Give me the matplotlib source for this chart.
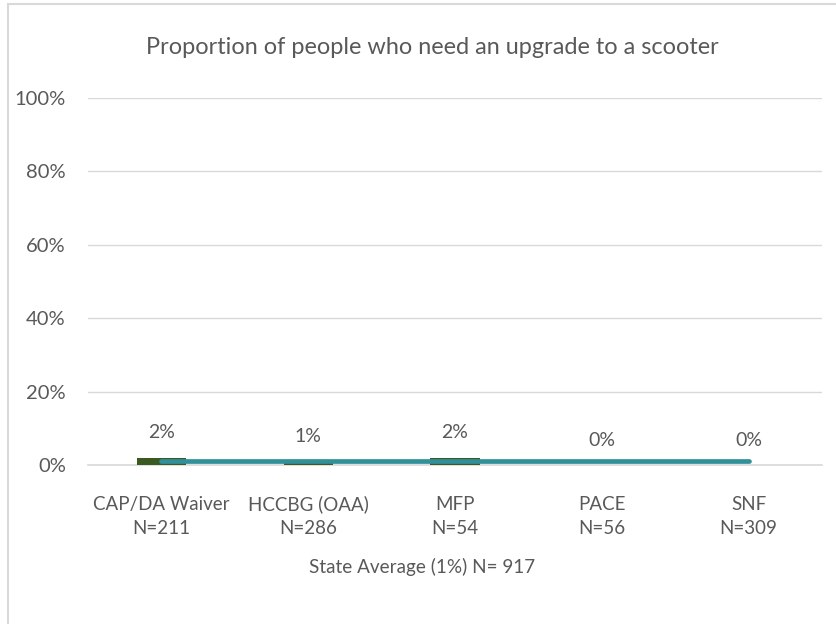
import matplotlib
matplotlib.use('Agg')
import matplotlib.pyplot as plt
from matplotlib.patches import Rectangle

# Data
programs = ['CAP/DA Waiver', 'HCCBG (OAA)', 'MFP', 'PACE', 'SNF']
sample_sizes = [211, 286, 54, 56, 309]
pct_scooter = [2, 1, 2, 0, 0]
state_avg = 1
state_n = 917
y_ticks = [0, 20, 40, 60, 80, 100]

plt.rcParams['font.family'] = ['Lato', 'DejaVu Sans']

txt = '#595959'
W, H = 837, 624
fig = plt.figure(figsize=(W / 100, H / 100), dpi=100)

# chart area border (cut off at the right and bottom in the original)
fig.add_artist(Rectangle((8 / W, -0.2), 1.2, 1.2 - 4 / H, transform=fig.transFigure,
                         fill=False, edgecolor='#D9D9D9', linewidth=1.5))

ax = fig.add_axes([88 / W, 159 / H, (822 - 88) / W, (465 - 98) / H])
x = list(range(len(programs)))

ax.bar(x, pct_scooter, width=0.335, color='#3A5A22', zorder=2)
ax.plot([x[0], x[-1]], [state_avg, state_avg], color='#31909A', linewidth=3.4,
        solid_capstyle='round', zorder=3)

for xi, v in zip(x, pct_scooter):
    ax.annotate(f'{v}%', (xi, v), xytext=(0, 18), textcoords='offset points',
                ha='center', va='center', fontsize=14, color=txt)

ax.set_xlim(-0.5, len(programs) - 0.5)
ax.set_ylim(0, 100)
ax.set_yticks(y_ticks)
ax.set_yticklabels([f'{t}%' for t in y_ticks])
ax.set_xticks(x)
ax.set_xticklabels([f'{p}\nN={n}' for p, n in zip(programs, sample_sizes)], linespacing=1.5)
ax.tick_params(axis='y', length=0, labelsize=14.5, colors=txt, pad=16)
ax.tick_params(axis='x', length=0, labelsize=13.5, colors=txt, pad=22)
ax.grid(axis='y', color='#D9D9D9', linewidth=1, zorder=0)
ax.axhline(0, color='#D9D9D9', linewidth=1.2, zorder=1, clip_on=False)
for s in ax.spines.values():
    s.set_visible(False)

fig.text(432 / W, 1 - 47 / H, 'Proportion of people who need an upgrade to a scooter',
         ha='center', va='center', fontsize=16.9, color=txt)
fig.text(422 / W, 1 - 567 / H, f'State Average ({state_avg}%) N= {state_n}',
         ha='center', va='center', fontsize=13.6, color=txt)

fig.savefig('out.png', dpi=100)
